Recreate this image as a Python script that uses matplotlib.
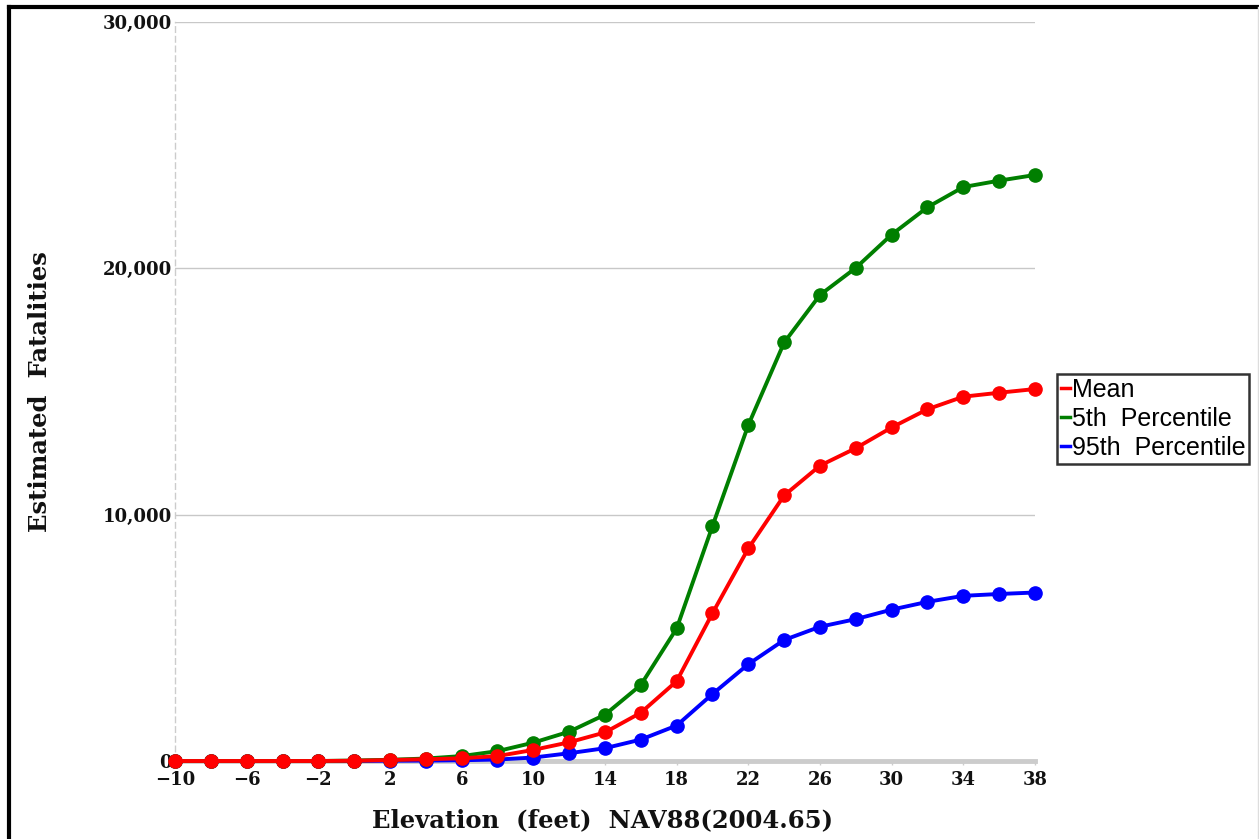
import matplotlib
matplotlib.use("Agg")
import matplotlib.pyplot as plt
from matplotlib.lines import Line2D
from matplotlib.ticker import FuncFormatter

# Data
elevation = [-10, -8, -6, -4, -2, 0, 2, 4, 6, 8, 10, 12, 14, 16, 18, 20, 22, 24, 26, 28, 30, 32, 34, 36, 38]
mean_vals = [0, 0, 0, 0, 0, 10, 40, 70, 110, 200, 450, 760, 1160, 1960, 3240, 6000, 8630, 10780, 11990, 12700, 13540, 14280, 14790, 14950, 15100]
p5_vals = [0, 0, 0, 0, 0, 20, 50, 100, 200, 400, 745, 1190, 1880, 3086, 5380, 9540, 13640, 16990, 18920, 20020, 21370, 22480, 23300, 23560, 23790]
p95_vals = [0, 0, 0, 0, 0, 0, 10, 15, 30, 60, 140, 315, 520, 870, 1440, 2720, 3930, 4913, 5450, 5760, 6145, 6462, 6705, 6780, 6840]
x_ticks = [-10, -6, -2, 2, 6, 10, 14, 18, 22, 26, 30, 34, 38]
y_ticks = [0, 10000, 20000, 30000]
series_labels = ["Mean", "5th  Percentile", "95th  Percentile"]

W, H = 1259, 839
fig = plt.figure(figsize=(W / 100, H / 100), dpi=100)
ax = fig.add_axes([175 / W, 1 - 761 / H, (1035 - 175) / W, (761 - 22) / H])

serif = "DejaVu Serif"
lw = 2.8
ms = 9.5
l95, = ax.plot(elevation, p95_vals, color="#0000ff", lw=lw, marker="o", ms=ms, clip_on=False, zorder=3)
l5, = ax.plot(elevation, p5_vals, color="#007f00", lw=lw, marker="o", ms=ms, clip_on=False, zorder=4)
lm, = ax.plot(elevation, mean_vals, color="#ff0000", lw=lw, marker="o", ms=ms, clip_on=False, zorder=5)

ax.set_xlim(-10, 38)
ax.set_ylim(0, 30000)
ax.set_xticks(x_ticks)
ax.set_yticks(y_ticks)
ax.xaxis.set_major_formatter(FuncFormatter(lambda v, p: f"{int(v)}".replace("-", "\u2212")))
ax.yaxis.set_major_formatter(FuncFormatter(lambda v, p: f"{int(v):,}"))

for lab in ax.get_xticklabels() + ax.get_yticklabels():
    lab.set_fontfamily(serif)
    lab.set_fontweight("bold")
    lab.set_fontsize(13)
    lab.set_color("#111111")

ax.tick_params(axis="y", length=0, pad=2)
ax.tick_params(axis="x", length=3, width=1, color="#cccccc", pad=4)

ax.grid(axis="y", color="#c8c8c8", lw=1.0)
ax.set_axisbelow(True)
for s in ["top", "right"]:
    ax.spines[s].set_visible(False)
ax.spines["left"].set_color("#cccccc")
ax.spines["left"].set_linestyle((0, (4, 3)))
ax.spines["left"].set_linewidth(1.0)
ax.spines["bottom"].set_color("#cccccc")
ax.spines["bottom"].set_linewidth(3.5)

fig.text(603 / W, 1 - 820 / H, "Elevation  (feet)  NAV88(2004.65)", ha="center", va="center",
         family=serif, fontweight="bold", fontsize=17.5, color="#111111")
fig.text(40 / W, 1 - 392 / H, "Estimated  Fatalities", ha="center", va="center", rotation=90,
         family=serif, fontweight="bold", fontsize=17.5, color="#111111")

leg_handles = [Line2D([], [], color="#ff0000", lw=2.5),
               Line2D([], [], color="#007f00", lw=2.5),
               Line2D([], [], color="#0000ff", lw=2.5)]
leg = fig.legend(leg_handles, series_labels, loc="upper left",
                 bbox_to_anchor=(1057 / W, 1 - 374 / H), frameon=True, fancybox=False,
                 handlelength=0.35, handletextpad=0.1, borderpad=0.15, labelspacing=0.2,
                 borderaxespad=0, prop={"family": "Liberation Sans", "size": 18})
leg.get_frame().set_edgecolor("black")
leg.get_frame().set_linewidth(1.8)

# figure frame
fig.add_artist(Line2D([9 / W, 1], [1 - 7 / H, 1 - 7 / H], transform=fig.transFigure, color="black", lw=3))
fig.add_artist(Line2D([9 / W, 9 / W], [0, 1 - 7 / H], transform=fig.transFigure, color="black", lw=3))
fig.add_artist(Line2D([1257.5 / W, 1257.5 / W], [0, 1 - 7 / H], transform=fig.transFigure, color="#dddddd", lw=1))

fig.savefig("out.png", dpi=100)
